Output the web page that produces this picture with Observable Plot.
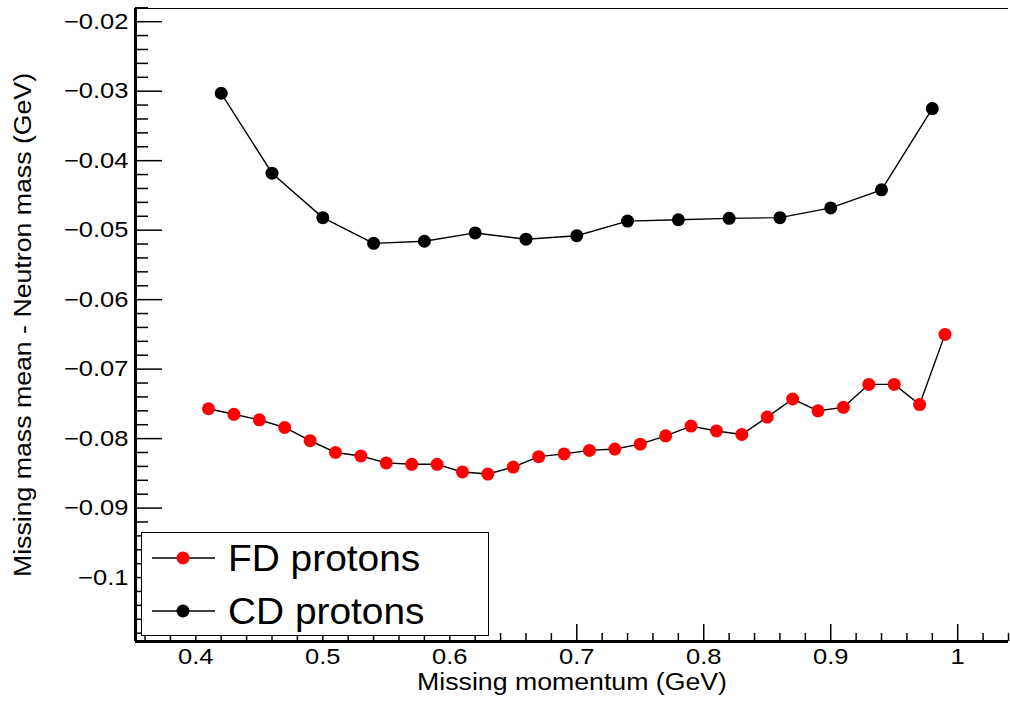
<!DOCTYPE html>
<html>
<head>
<meta charset="utf-8">
<script src="https://cdn.jsdelivr.net/npm/d3@7"></script>
<script src="https://cdn.jsdelivr.net/npm/@observablehq/plot@0.6"></script>
<style>
  html, body { margin: 0; padding: 0; background: #fff; overflow: hidden; }
  #wrap { position: relative; width: 1010px; height: 701px; }
  #legend { position: absolute; left: 141px; top: 532px; }
</style>
</head>
<body>
<div id="wrap"></div>
<script>
// ---- data ----
const fdMomentum = [0.41, 0.43, 0.45, 0.47, 0.49, 0.51, 0.53, 0.55, 0.57, 0.59,
                    0.61, 0.63, 0.65, 0.67, 0.69, 0.71, 0.73, 0.75, 0.77, 0.79,
                    0.81, 0.83, 0.85, 0.87, 0.89, 0.91, 0.93, 0.95, 0.97, 0.99];
const fdMean = [-0.0757, -0.0765, -0.0773, -0.0784, -0.0803, -0.0820, -0.0825, -0.0835, -0.0837, -0.0837,
                -0.0848, -0.0851, -0.0841, -0.0826, -0.0822, -0.0817, -0.0815, -0.0808, -0.0796, -0.0782,
                -0.0789, -0.0794, -0.0769, -0.0743, -0.0760, -0.0755, -0.0722, -0.0722, -0.0751, -0.0650];
const cdMomentum = [0.42, 0.46, 0.50, 0.54, 0.58, 0.62, 0.66, 0.70, 0.74, 0.78, 0.82, 0.86, 0.90, 0.94, 0.98];
const cdMean = [-0.0303, -0.0418, -0.0482, -0.0519, -0.0516, -0.0504, -0.0513, -0.0508,
                -0.0487, -0.0485, -0.0483, -0.0482, -0.0468, -0.0442, -0.0325];
const seriesNames = ["FD protons", "CD protons"];
const seriesColors = ["#ff0000", "#000000"];

const xMajorTicks = [0.4, 0.5, 0.6, 0.7, 0.8, 0.9, 1.0];
const xMajorLabels = ["0.4", "0.5", "0.6", "0.7", "0.8", "0.9", "1"];
const xMinorTicks = [0.36, 0.38, 0.42, 0.44, 0.46, 0.48, 0.52, 0.54, 0.56, 0.58, 0.62, 0.64, 0.66, 0.68,
                     0.72, 0.74, 0.76, 0.78, 0.82, 0.84, 0.86, 0.88, 0.92, 0.94, 0.96, 0.98, 1.02, 1.04];
const yMajorTicks = [-0.1, -0.09, -0.08, -0.07, -0.06, -0.05, -0.04, -0.03, -0.02];
const yMajorLabels = ["\u22120.1", "\u22120.09", "\u22120.08", "\u22120.07", "\u22120.06",
                      "\u22120.05", "\u22120.04", "\u22120.03", "\u22120.02"];
const yMinorTicks = [-0.108, -0.106, -0.104, -0.102, -0.098, -0.096, -0.094, -0.092, -0.088, -0.086, -0.084, -0.082,
                     -0.078, -0.076, -0.074, -0.072, -0.068, -0.066, -0.064, -0.062, -0.058, -0.056, -0.054, -0.052,
                     -0.048, -0.046, -0.044, -0.042, -0.038, -0.036, -0.034, -0.032, -0.028, -0.026, -0.024, -0.022, -0.018];
const xDomain = [0.3525, 1.04];
const yDomain = [-0.1092, -0.0181];
const xTitle = "Missing momentum (GeV)";
const yTitle = "Missing mass mean - Neutron mass (GeV)";

// ---- build tables ----
const fd = fdMomentum.map((x, i) => ({x, y: fdMean[i]}));
const cd = cdMomentum.map((x, i) => ({x, y: cdMean[i]}));
const xLabelOf = new Map(xMajorTicks.map((t, i) => [t, xMajorLabels[i]]));
const yLabelOf = new Map(yMajorTicks.map((t, i) => [t, yMajorLabels[i]]));

const W = 1010, H = 701;
const mL = 135, mR = 2, mT = 8, mB = 60;
const plotW = W - mL - mR, plotH = H - mT - mB;

const chart = Plot.plot({
  width: W, height: H,
  marginLeft: mL, marginRight: mR, marginTop: mT, marginBottom: mB,
  style: {fontFamily: "'Liberation Sans', Arial, sans-serif", fontSize: "22px", color: "#000", background: "#fff"},
  x: {domain: xDomain, axis: null},
  y: {domain: yDomain, axis: null},
  marks: [
    // top frame line
    Plot.ruleY([yDomain[1]], {stroke: "#000", strokeWidth: 1}),
    // tick marks (inward)
    Plot.tickY(yMajorTicks, {y: d => d, stroke: "#000", strokeWidth: 1.5, insetRight: plotW - 27}),
    Plot.tickY(yMinorTicks, {y: d => d, stroke: "#000", strokeWidth: 1.5, insetRight: plotW - 13}),
    Plot.tickX(xMajorTicks, {x: d => d, stroke: "#000", strokeWidth: 1.5, insetTop: plotH - 17}),
    Plot.tickX(xMinorTicks, {x: d => d, stroke: "#000", strokeWidth: 1.5, insetTop: plotH - 8}),
    // axis lines
    Plot.ruleX([xDomain[0]], {stroke: "#000", strokeWidth: 3}),
    Plot.ruleY([yDomain[0]], {stroke: "#000", strokeWidth: 3}),
    // tick labels
    Plot.axisY({ticks: yMajorTicks, tickSize: 0, tickPadding: 7, label: null, fontSize: 22,
                tickFormat: d => yLabelOf.get(d)}),
    Plot.axisX({ticks: xMajorTicks, tickSize: 0, tickPadding: 7, label: null, fontSize: 22,
                tickFormat: d => xLabelOf.get(d)}),
    // axis titles
    Plot.axisX({ticks: [], tickSize: 0, label: xTitle, labelAnchor: "center", labelArrow: "none",
                labelOffset: 48, fontSize: 23}),
    Plot.axisY({ticks: [], tickSize: 0, label: yTitle, labelAnchor: "center", labelArrow: "none",
                labelOffset: 121, fontSize: 23}),
    // data
    Plot.line(fd, {x: "x", y: "y", stroke: "#000", strokeWidth: 1.4}),
    Plot.line(cd, {x: "x", y: "y", stroke: "#000", strokeWidth: 1.4}),
    Plot.dot(fd, {x: "x", y: "y", r: 6.5, fill: seriesColors[0], stroke: "none"}),
    Plot.dot(cd, {x: "x", y: "y", r: 6.5, fill: seriesColors[1], stroke: "none"})
  ]
});

const wrap = document.getElementById("wrap");
wrap.appendChild(chart);

// legend
const lg = d3.select(wrap).append("svg").attr("id", "legend")
  .attr("width", 349).attr("height", 105);
lg.append("rect").attr("x", 0.5).attr("y", 0.5).attr("width", 347).attr("height", 103)
  .attr("fill", "#fff").attr("stroke", "#000").attr("stroke-width", 1);
const rowY = [26, 79];
seriesNames.forEach((name, i) => {
  const g = lg.append("g").attr("transform", `translate(0,${rowY[i]})`);
  g.append("line").attr("x1", 11).attr("x2", 74).attr("y1", 0).attr("y2", 0)
    .attr("stroke", "#000").attr("stroke-width", 1.4);
  g.append("circle").attr("cx", 42).attr("cy", 0).attr("r", 6.5).attr("fill", seriesColors[i]);
  g.append("text").attr("class", "lgtext").attr("x", 87).attr("y", 13)
    .attr("font-family", "'Liberation Sans', Arial, sans-serif").attr("font-size", 37)
    .attr("fill", "#000").text(name);
});

// horizontal stretch of text to match the reference's wide glyph spacing
function stretch(sel, f) {
  sel.each(function() {
    const len = this.getComputedTextLength();
    if (len > 0) {
      this.setAttribute("textLength", (len * f).toFixed(1));
      this.setAttribute("lengthAdjust", "spacingAndGlyphs");
    }
  });
}
stretch(d3.select(chart).selectAll("text"), 1.16);
stretch(lg.selectAll("text"), 1.05);
</script>
</body>
</html>
